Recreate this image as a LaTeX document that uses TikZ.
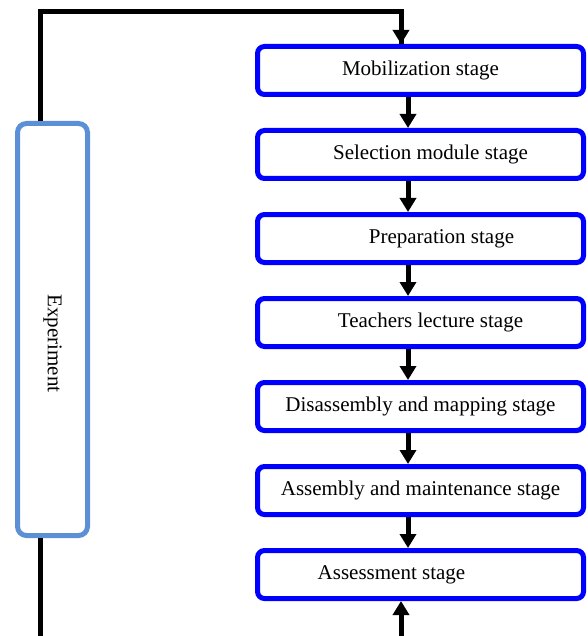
\documentclass[tikz,border=0pt]{standalone}
\usepackage{fontspec}
\setmainfont{Liberation Serif}
\usetikzlibrary{positioning,arrows.meta}
\definecolor{expblue}{RGB}{91,144,214}
\tikzset{stage/.style={draw=blue, line width=5pt, rounded corners=7pt,
                       minimum width=326pt, minimum height=48pt, inner sep=0pt,
                       font=\fontsize{21}{25}\selectfont},
        expbox/.style={draw=expblue, line width=5pt, rounded corners=9pt,
                       minimum width=70pt, minimum height=412pt},
        flow/.style={line width=5pt, -{Triangle[length=14pt,width=16pt]}},
        link/.style={line width=5pt},
        }

\begin{document}
\begin{tikzpicture}[x=1pt, y=-1pt, node distance=31pt]
    \useasboundingbox (0,0) rectangle (587,636);

    % stages
    \node[stage] (mob) at (420.5,70.5) {Mobilization stage};
    \node[stage, below=of mob] (sel) {\hspace*{20pt}Selection module stage};
    \node[stage, below=of sel] (prep) {\hspace*{42pt}Preparation stage};
    \node[stage, below=of prep] (lect) {\hspace*{20pt}Teachers lecture stage};
    \node[stage, below=of lect] (dis) {Disassembly and mapping stage};
    \node[stage, below=of dis] (asm) {Assembly and maintenance stage};
    \node[stage, below=of asm] (ass) {Assessment stage\hspace*{58pt}};

    % experiment
    \node[expbox] (exp) at (52.5,329.5) {};
    \node[rotate=-90, font=\fontsize{21}{25}\selectfont] (exptext)
        at ([yshift=-14pt]exp.center) {Experiment};

    \coordinate (topleft) at (40,12);
    \coordinate (botleft) at (40,640);
    \coordinate (botright) at (401,640);

    \draw[link] (exp.north -| topleft) -- (topleft) -| ([xshift=-19.5pt]mob.north);
    \draw[flow] ([xshift=-19.5pt]mob.north |- topleft) -- ([xshift=-19.5pt]mob.north);
    \foreach \a/\b in {mob/sel, sel/prep, prep/lect, lect/dis, dis/asm, asm/ass}
        \draw[flow] ([xshift=-12.5pt]\a.south) -- ([xshift=-12.5pt]\b.north);
    \draw[link] (exp.south -| botleft) -- (botleft);
    \draw[flow] (botright) -- ([xshift=-19.5pt]ass.south);
\end{tikzpicture}
\end{document}
